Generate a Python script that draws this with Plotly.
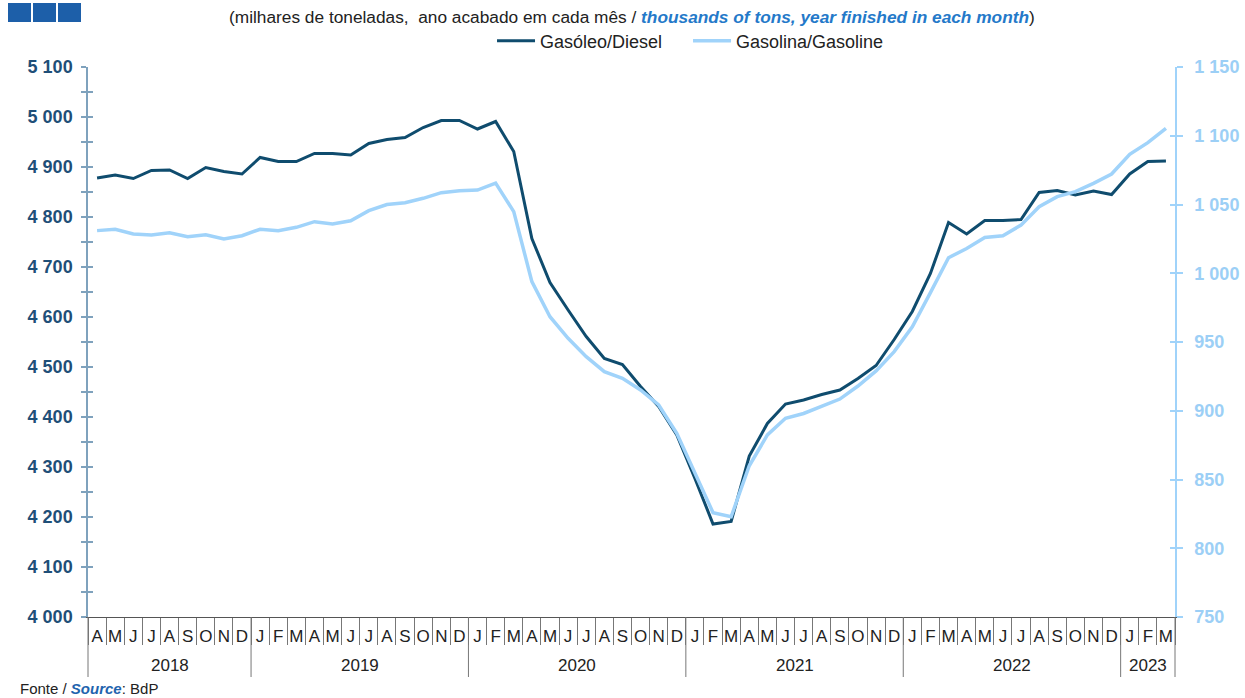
import plotly.graph_objects as go

# Monthly axis: April 2018 to March 2023
month_letters = ["J", "F", "M", "A", "M", "J", "J", "A", "S", "O", "N", "D"]
start_year, start_month, n_months = 2018, 4, 60

# Rolling 12-month consumption (thousand tons)
diesel = [
    4878, 4884, 4877, 4893, 4894, 4877, 4899, 4891, 4886,
    4919, 4911, 4911, 4927, 4927, 4924, 4947, 4955, 4959, 4979, 4993, 4993,
    4976, 4991, 4931, 4757, 4669, 4614, 4561, 4517, 4505, 4461, 4421, 4364,
    4277, 4186, 4191, 4322, 4387, 4426, 4434, 4445, 4454, 4477, 4503, 4555,
    4611, 4687, 4789, 4766, 4793, 4793, 4795, 4849, 4853, 4844, 4852, 4845,
    4886, 4911, 4912,
]
gasoline = [
    1031, 1032, 1028.5, 1027.8, 1029.5, 1026.6, 1028, 1025, 1027.3,
    1032, 1031, 1033.4, 1037.5, 1035.8, 1038.2, 1045.5, 1050, 1051.3, 1054.5, 1058.6, 1060,
    1060.5, 1065.6, 1044.8, 993.9, 968.4, 952.7, 939.3, 928.4, 923.6, 915.1, 904.2, 883.6,
    854.5, 825.9, 822.9, 860, 882.4, 894.5, 898, 903.5, 908.5, 918, 929, 943,
    961, 985.9, 1011.3, 1018, 1026, 1027.3, 1035, 1048.4, 1055.7, 1059.3, 1065.4, 1072.2,
    1086.5, 1095, 1105.4,
]

# Month categories; zero-width prefixes make repeated letters distinct categories
years, months = [], []
for i in range(n_months):
    m = (start_month - 1 + i) % 12
    y = start_year + (start_month - 1 + i) // 12
    years.append(str(y))
    months.append("\u200b" * i + month_letters[m])

# Year groups: first/last index of each year on the month axis
year_groups = {}
for i, y in enumerate(years):
    year_groups.setdefault(y, []).append(i)

DARK = "#0f4c6e"
LIGHT = "#a0d3fa"
LEFT_AXIS = "#7fa2bd"
LEFT_TXT = "#1f4f78"
RIGHT_TXT = "#9ccff6"
GRID_DARK = "#777"

PLOT_H = 550  # plot-area height in px, used to place items below the axis

fig = go.Figure()
fig.add_trace(go.Scatter(x=months, y=diesel, name="Gasóleo/Diesel", mode="lines",
                         line=dict(color=DARK, width=3), yaxis="y"))
fig.add_trace(go.Scatter(x=months, y=gasoline, name="Gasolina/Gasoline", mode="lines",
                         line=dict(color=LIGHT, width=3.5), yaxis="y2"))
# helper traces so the inner tick axes are rendered
fig.add_trace(go.Scatter(x=months, y=diesel, yaxis="y3", mode="lines", showlegend=False,
                         hoverinfo="skip", line=dict(width=0), opacity=0))
fig.add_trace(go.Scatter(x=months, y=gasoline, yaxis="y4", mode="lines", showlegend=False,
                         hoverinfo="skip", line=dict(width=0), opacity=0))

tickfont_l = dict(family="Liberation Sans, Arial", size=18, color=LEFT_TXT, weight=700)
tickfont_r = dict(family="Liberation Sans, Arial", size=18, color=RIGHT_TXT, weight=700)

fig.update_layout(
    width=1245, height=698,
    margin=dict(l=88, r=70, t=67, b=81, autoexpand=False),
    paper_bgcolor="white", plot_bgcolor="white",
    separators=", ",
    font=dict(family="Liberation Sans, Arial", size=16, color="#222"),
    showlegend=True,
    legend=dict(orientation="h", x=0.552, xanchor="center", y=1.047, yanchor="middle",
                font=dict(size=18, color="#222"), bgcolor="rgba(0,0,0,0)",
                itemwidth=38, entrywidth=143, tracegroupgap=0),
    xaxis=dict(
        type="category", categoryorder="trace", range=[-0.5, n_months - 0.5],
        automargin=False, tickmode="linear", tick0=0, dtick=1, tickangle=0,
        showline=True, linecolor="#555", linewidth=1,
        ticks="outside", tickson="boundaries", ticklen=27, tickcolor=GRID_DARK, tickwidth=1,
        ticklabelstandoff=4,
        tickfont=dict(size=17, color="#222"), showgrid=False, zeroline=False,
    ),
    yaxis=dict(
        range=[4000, 5100], dtick=100, tickformat=",d", showgrid=False, zeroline=False,
        automargin=False,
        showline=True, linecolor=LEFT_AXIS, linewidth=1.5,
        ticks="outside", ticklen=5, tickcolor=LEFT_AXIS, tickwidth=1.5,
        minor=dict(dtick=50, ticks="outside", ticklen=5, tickcolor=LEFT_AXIS, tickwidth=1.5),
        tickfont=tickfont_l, ticklabelstandoff=5,
    ),
    yaxis3=dict(
        range=[4000, 5100], overlaying="y", side="left", dtick=50, showgrid=False,
        zeroline=False, showline=False, showticklabels=False, automargin=False,
        ticks="inside", ticklen=5, tickcolor=LEFT_AXIS, tickwidth=1.5,
    ),
    yaxis2=dict(
        range=[750, 1150], dtick=50, tickformat=",d", overlaying="y", side="right",
        showgrid=False, zeroline=False, automargin=False,
        showline=True, linecolor=LIGHT, linewidth=1.5,
        ticks="outside", ticklen=6, tickcolor=LIGHT, tickwidth=1.5,
        tickfont=tickfont_r, ticklabelstandoff=8,
    ),
    yaxis4=dict(
        range=[750, 1150], overlaying="y", side="right", dtick=50, showgrid=False,
        zeroline=False, showline=False, showticklabels=False, automargin=False,
        ticks="inside", ticklen=5, tickcolor=LIGHT, tickwidth=1.5,
    ),
)

# Year row: dividers at year boundaries and centred year labels
boundaries = sorted({idx[0] - 0.5 for idx in year_groups.values()} | {n_months - 0.5})
for b in boundaries:
    if b <= -0.5:
        xref, xv = "paper", 0
    elif b >= n_months - 0.5:
        xref, xv = "paper", 1
    else:
        xref, xv = "x", b
    fig.add_shape(type="line", xref=xref, yref="paper", x0=xv, x1=xv,
                  y0=0, y1=-60 / PLOT_H, line=dict(color=GRID_DARK, width=1), layer="above")
for y, idx in year_groups.items():
    fig.add_annotation(xref="x", yref="paper", x=(idx[0] + idx[-1]) / 2, y=-48 / PLOT_H,
                       text=y, showarrow=False, xanchor="center", yanchor="middle",
                       font=dict(size=17, color="#222"))

# Header subtitle and source note
fig.add_annotation(
    xref="paper", yref="paper", x=0.5, y=1.091, xanchor="center", yanchor="middle",
    showarrow=False, font=dict(size=17.3, color="#222"),
    text="(milhares de toneladas,  ano acabado em cada mês / "
         "<span style='color:#2479c9'><b><i>thousands of tons, year finished in each month</i></b></span>)",
)
fig.add_annotation(
    xref="paper", yref="paper", x=(18 - 88) / 1087, y=-71 / PLOT_H, xanchor="left", yanchor="middle",
    showarrow=False, font=dict(size=15, color="#222"),
    text="Fonte / <span style='color:#1f64ae'><b><i>Source</i></b></span>: BdP",
)

# Corner logo blocks
for x0 in (8, 33, 58):
    fig.add_shape(type="rect", xref="paper", yref="paper",
                  x0=(x0 - 88) / 1087, x1=(x0 + 23 - 88) / 1087,
                  y0=(617 - 22) / PLOT_H, y1=(617 - 3) / PLOT_H,
                  fillcolor="#1d5fa9", line=dict(width=0), layer="above")

fig.write_html("out.html")
